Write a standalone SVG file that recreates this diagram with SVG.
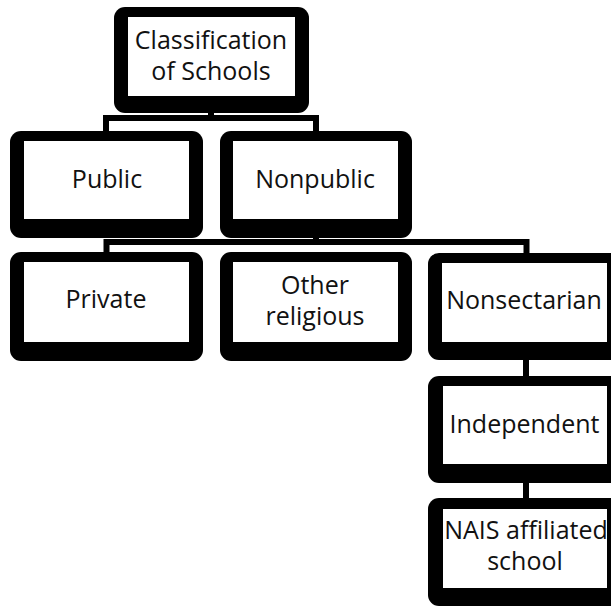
<svg xmlns="http://www.w3.org/2000/svg" width="611" height="607" viewBox="0 0 611 607">
<style>
.outer{fill:#000}
.inner{fill:#fff}
.lbl{font-family:"Open Sans","Noto Sans","Liberation Sans",sans-serif;font-size:25px;fill:#111;text-anchor:middle}
.conn{fill:none;stroke:#000;stroke-width:6;stroke-linecap:butt;stroke-linejoin:miter}
</style>
<rect width="611" height="607" fill="#fff"/>
<g id="connectors">
<path class="conn" d="M211,110 V118 M106,133 V118 H316 V133"/>
<path class="conn" d="M316,236 V242 M106.5,254 V242 H526.5 V254"/>
<path class="conn" d="M526,358 V378"/>
<path class="conn" d="M526,481 V500"/>
</g>
<g id="node-classification">
<rect class="outer" x="114" y="7" width="195" height="106" rx="11"/>
<rect class="inner" x="128" y="17" width="167" height="79"/>
<text class="lbl" x="211" y="49">Classification</text>
<text class="lbl" x="211" y="80">of Schools</text>
</g>
<g id="node-public">
<rect class="outer" x="10" y="131" width="193" height="107" rx="11"/>
<rect class="inner" x="24" y="141" width="165" height="78"/>
<text class="lbl" x="107" y="188">Public</text>
</g>
<g id="node-nonpublic">
<rect class="outer" x="220" y="131" width="192" height="107" rx="11"/>
<rect class="inner" x="233" y="141" width="165" height="78"/>
<text class="lbl" x="315" y="188">Nonpublic</text>
</g>
<g id="node-private">
<rect class="outer" x="10" y="252" width="193" height="109" rx="11"/>
<rect class="inner" x="24" y="262" width="165" height="80"/>
<text class="lbl" x="106" y="308">Private</text>
</g>
<g id="node-other-religious">
<rect class="outer" x="220" y="252" width="192" height="109" rx="11"/>
<rect class="inner" x="233" y="262" width="165" height="80"/>
<text class="lbl" x="315" y="294">Other</text>
<text class="lbl" x="315" y="325">religious</text>
</g>
<g id="node-nonsectarian">
<rect class="outer" x="428" y="253" width="193" height="107" rx="11"/>
<rect class="inner" x="442" y="263" width="165" height="79"/>
<text class="lbl" x="524" y="309">Nonsectarian</text>
</g>
<g id="node-independent">
<rect class="outer" x="428" y="376" width="193" height="107" rx="11"/>
<rect class="inner" x="443" y="386" width="164" height="78"/>
<text class="lbl" x="524.5" y="433">Independent</text>
</g>
<g id="node-nais">
<rect class="outer" x="428" y="498" width="193" height="108" rx="11"/>
<rect class="inner" x="443" y="509" width="164" height="79"/>
<text class="lbl" x="526" y="539">NAIS affiliated</text>
<text class="lbl" x="525" y="570">school</text>
</g>
</svg>
